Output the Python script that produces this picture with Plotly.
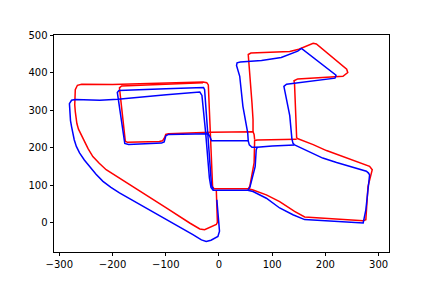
import plotly.graph_objects as go

# ---------------- red trajectory pieces ----------------
red_outer_x = [-5, -3, -5, -27, -36, -55, -99, -143, -184, -198, -212, -225, -237, -246, -253, -259, -264, -267, -269, -270, -271, -270, -266, -258, -200, -150, -100, -30, -23, -20, -18, -16, -14, -12, -9, 20, 55, 58, 66, 67, 72, 146]
red_outer_y = [88, 2, -4, -18, -16, 0, 40, 80, 115, 128, 142, 159, 177, 198, 220, 235, 250, 265, 280, 297, 315, 355, 367, 370, 369, 371, 373, 376, 374, 368, 300, 244, 150, 97, 91, 91, 91, 98, 160, 220, 221, 223]

red_inner_x = [67, 66, 64, -16, -95, -100, -102, -106, -112, -172, -176, -187, -183, -100, -30]
red_inner_y = [222, 236, 243, 242, 238, 236, 228, 219, 217, 215, 218, 360, 365, 369, 374]

red_upper_x = [64, 64, 62, 57, 55, 60, 100, 133, 150, 177, 183, 240, 242, 233, 148, 141, 142, 144, 146]
red_upper_y = [243, 275, 320, 400, 449, 453, 455, 457, 463, 479, 477, 410, 401, 391, 384, 379, 370, 286, 226]

red_lower_x = [55, 64, 89, 114, 142, 161, 271, 276, 280, 288, 283, 258, 221, 202, 177, 148, 146]
red_lower_y = [91, 88, 75, 57, 31, 16, 6, 9, 97, 142, 151, 164, 182, 193, 209, 224, 226]

# ---------------- blue trajectory pieces ----------------
blue_outer_x = [-4, -2, 0, 1, -2, -15, -24, -33, -49, -93, -143, -187, -203, -218, -231, -243, -253, -262, -268, -272, -275, -277, -279, -280, -281, -281, -277, -270, -224, -190, -99, -40, -36, -32, -25, -18, -15, -11, 20, 54, 58, 68, 70, 72, 100, 139, 142]
blue_outer_y = [62, 30, 0, -22, -36, -46, -49, -45, -31, 4, 44, 80, 95, 111, 130, 151, 168, 187, 204, 222, 240, 257, 273, 290, 305, 318, 327, 329, 327, 330, 342, 350, 349, 340, 240, 120, 95, 87, 87, 87, 95, 150, 195, 202, 205, 208, 208]

blue_inner_x = [55, -14, -17, -20, -95, -100, -103, -108, -170, -177, -191, -188, -100, -35, -29, -27, -21, -14, -10]
blue_inner_y = [219, 219, 230, 238, 236, 232, 216, 213, 209, 212, 348, 353, 358, 362, 361, 355, 240, 100, 89]

blue_upper_x = [72, 62, 57, 55, 54, 45, 39, 33, 34, 40, 80, 117, 148, 155, 220, 218, 127, 122, 124, 133, 137, 139, 142]
blue_upper_y = [202, 202, 208, 219, 240, 311, 391, 420, 427, 429, 433, 441, 458, 465, 394, 386, 370, 364, 350, 286, 225, 213, 208]

blue_lower_x = [142, 145, 195, 221, 277, 281, 283, 276, 271, 161, 139, 114, 89, 64, 54]
blue_lower_y = [208, 206, 173, 161, 138, 133, 128, 35, 0, 9, 22, 40, 66, 84, 87]

x_ticks = [-300, -200, -100, 0, 100, 200, 300]
y_ticks = [0, 100, 200, 300, 400, 500]


def join(*pieces):
    out = []
    for i, p in enumerate(pieces):
        if i:
            out.append(None)
        out.extend(p)
    return out


def label(v):
    return ("\u2212" + str(-v)) if v < 0 else str(v)


fig = go.Figure()
fig.add_trace(go.Scatter(
    x=join(red_outer_x, red_inner_x, red_upper_x, red_lower_x),
    y=join(red_outer_y, red_inner_y, red_upper_y, red_lower_y),
    mode="lines", line=dict(color="#ff0000", width=1.5), connectgaps=False,
    showlegend=False, hoverinfo="skip"))
fig.add_trace(go.Scatter(
    x=join(blue_outer_x, blue_inner_x, blue_upper_x, blue_lower_x),
    y=join(blue_outer_y, blue_inner_y, blue_upper_y, blue_lower_y),
    mode="lines", line=dict(color="#0000ff", width=1.5), connectgaps=False,
    showlegend=False, hoverinfo="skip"))

axis_common = dict(
    showgrid=False, zeroline=False, showline=True, mirror=True,
    linecolor="black", linewidth=0.8, ticks="outside", ticklen=3.5,
    tickwidth=0.8, tickcolor="black",
    tickfont=dict(family="DejaVu Sans", size=10, color="black"),
)

fig.update_layout(
    width=432, height=288,
    margin=dict(l=54, r=43, t=35, b=36, pad=0),
    paper_bgcolor="white", plot_bgcolor="white",
    xaxis=dict(range=[-310, 319.5], tickvals=x_ticks,
               ticktext=[label(v) for v in x_ticks], **axis_common),
    yaxis=dict(range=[-77.3, 501], tickvals=y_ticks,
               ticktext=[label(v) for v in y_ticks], **axis_common),
)

fig.write_html("out.html")
